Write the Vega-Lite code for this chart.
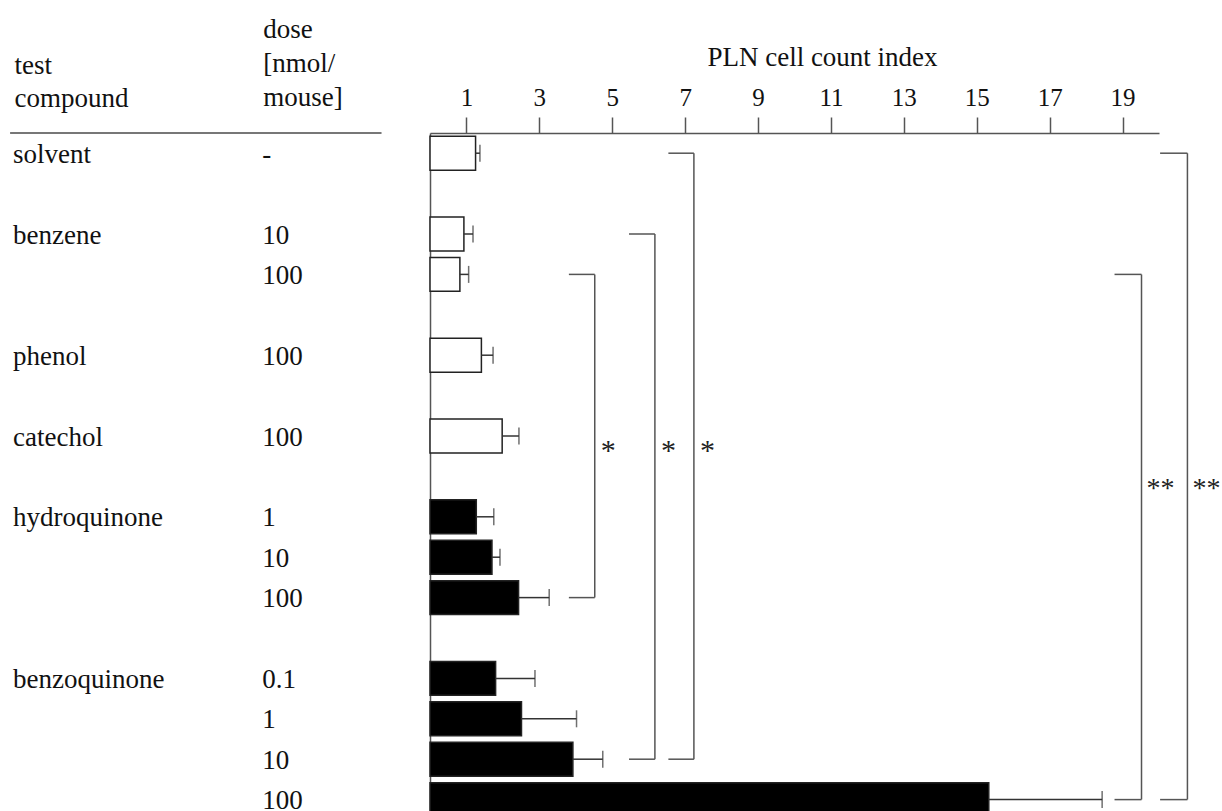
{
  "$schema": "https://vega.github.io/schema/vega-lite/v6.json",
  "width": 729,
  "height": 678,
  "autosize": {"type": "none"},
  "padding": {"left": 430, "top": 133, "right": 63, "bottom": 0},
  "config": {"view": {"stroke": null}, "font": "Liberation Serif"},
  "datasets": {
    "bars": [
      {"row": "solvent -", "compound": "solvent", "dose": "-", "class": "other", "mean": 1.25, "upper": 1.37},
      {"row": "benzene 10", "compound": "benzene", "dose": "10", "class": "other", "mean": 0.93, "upper": 1.18},
      {"row": "benzene 100", "compound": "benzene", "dose": "100", "class": "other", "mean": 0.82, "upper": 1.06},
      {"row": "phenol 100", "compound": "phenol", "dose": "100", "class": "other", "mean": 1.41, "upper": 1.73},
      {"row": "catechol 100", "compound": "catechol", "dose": "100", "class": "other", "mean": 1.98, "upper": 2.44},
      {"row": "hydroquinone 1", "compound": "hydroquinone", "dose": "1", "class": "quinone", "mean": 1.27, "upper": 1.75},
      {"row": "hydroquinone 10", "compound": "hydroquinone", "dose": "10", "class": "quinone", "mean": 1.70, "upper": 1.92},
      {"row": "hydroquinone 100", "compound": "hydroquinone", "dose": "100", "class": "quinone", "mean": 2.43, "upper": 3.27},
      {"row": "benzoquinone 0.1", "compound": "benzoquinone", "dose": "0.1", "class": "quinone", "mean": 1.80, "upper": 2.88},
      {"row": "benzoquinone 1", "compound": "benzoquinone", "dose": "1", "class": "quinone", "mean": 2.51, "upper": 4.02},
      {"row": "benzoquinone 10", "compound": "benzoquinone", "dose": "10", "class": "quinone", "mean": 3.92, "upper": 4.74},
      {"row": "benzoquinone 100", "compound": "benzoquinone", "dose": "100", "class": "quinone", "mean": 15.33, "upper": 18.44}
    ],
    "brackets": [
      {"from": "benzene 100", "to": "hydroquinone 100", "x1": 3.81, "x2": 4.52, "label": "*"},
      {"from": "benzene 10", "to": "benzoquinone 10", "x1": 5.46, "x2": 6.17, "label": "*"},
      {"from": "solvent -", "to": "benzoquinone 10", "x1": 6.54, "x2": 7.24, "label": "*"},
      {"from": "benzene 100", "to": "benzoquinone 100", "x1": 18.78, "x2": 19.52, "label": "**"},
      {"from": "solvent -", "to": "benzoquinone 100", "x1": 20.03, "x2": 20.78, "label": "**"}
    ],
    "header": [
      {"from": -11.52, "to": -1.33, "row": "solvent -"}
    ]
  },
  "layer": [
    {
      "data": {"name": "bars"},
      "mark": {"type": "bar", "stroke": "#222222", "strokeWidth": 1.5},
      "encoding": {
        "y": {
          "field": "row", "type": "nominal", "sort": null,
          "scale": {
            "domain": ["solvent -", "gap1", "benzene 10", "benzene 100", "gap2", "phenol 100", "gap3", "catechol 100", "gap4", "hydroquinone 1", "hydroquinone 10", "hydroquinone 100", "gap5", "benzoquinone 0.1", "benzoquinone 1", "benzoquinone 10", "benzoquinone 100"],
            "range": [0, 686.8],
            "paddingInner": 0.16,
            "paddingOuter": 0.08
          },
          "axis": {
            "orient": "left", "domain": true, "domainColor": "#555555", "domainWidth": 1.5,
            "ticks": false, "labels": false, "grid": false,
            "title": ["test", "compound"], "titleAngle": 0, "titleAlign": "left", "titleBaseline": "alphabetic",
            "titleX": -416, "titleY": -60, "titleFontSize": 27, "titleFontWeight": "normal",
            "titleLineHeight": 33.5, "titleColor": "#111111", "titleFont": "Liberation Serif"
          }
        },
        "x": {
          "field": "mean", "type": "quantitative",
          "scale": {"domain": [0, 20], "nice": false, "zero": true},
          "axis": {
            "orient": "top", "values": [1, 3, 5, 7, 9, 11, 13, 15, 17, 19],
            "tickSize": 16, "tickWidth": 1.5, "tickColor": "#555555",
            "domainColor": "#555555", "domainWidth": 1.5, "grid": false,
            "labelFont": "Liberation Serif", "labelFontSize": 25, "labelColor": "#111111",
            "labelPadding": 12, "labelBaseline": "alphabetic", "labelFlush": false,
            "title": "PLN cell count index", "titleFont": "Liberation Serif", "titleFontSize": 27,
            "titleFontWeight": "normal", "titleColor": "#111111",
            "titleX": 392, "titleY": -68, "titleBaseline": "alphabetic", "titleAlign": "center"
          }
        },
        "fill": {
          "field": "class", "type": "nominal",
          "scale": {"domain": ["other", "quinone"], "range": ["#ffffff", "#000000"]},
          "legend": null
        }
      }
    },
    {
      "data": {"name": "bars"},
      "mark": {"type": "rule", "color": "#333333", "strokeWidth": 1.5},
      "encoding": {
        "y": {"field": "row", "type": "nominal", "axis": null},
        "x": {"field": "mean", "type": "quantitative"},
        "x2": {"field": "upper"}
      }
    },
    {
      "data": {"name": "bars"},
      "mark": {"type": "tick", "orient": "vertical", "size": 17, "thickness": 1.5, "color": "#333333"},
      "encoding": {
        "y": {"field": "row", "type": "nominal", "axis": null},
        "x": {"field": "upper", "type": "quantitative"}
      }
    },
    {
      "data": {"name": "bars"},
      "transform": [
        {"window": [{"op": "row_number", "as": "k"}], "groupby": ["compound"]},
        {"filter": "datum.k == 1"}
      ],
      "mark": {"type": "text", "align": "left", "baseline": "alphabetic", "dy": 9.5, "fontSize": 27, "color": "#111111", "font": "Liberation Serif"},
      "encoding": {
        "y": {"field": "row", "type": "nominal", "axis": null},
        "x": {"datum": -11.44, "type": "quantitative"},
        "text": {"field": "compound"}
      }
    },
    {
      "data": {"name": "bars"},
      "mark": {"type": "text", "align": "left", "baseline": "alphabetic", "dy": 9.5, "fontSize": 27, "color": "#111111", "font": "Liberation Serif"},
      "encoding": {
        "y": {
          "field": "row", "type": "nominal",
          "axis": {
            "orient": "left", "domain": false, "ticks": false, "labels": false, "grid": false,
            "title": ["dose", "[nmol/", "mouse]"], "titleAngle": 0, "titleAlign": "left", "titleBaseline": "alphabetic",
            "titleX": -167.3, "titleY": -96, "titleFontSize": 27, "titleFontWeight": "normal",
            "titleLineHeight": 34.3, "titleColor": "#111111", "titleFont": "Liberation Serif"
          }
        },
        "x": {"datum": -4.6, "type": "quantitative"},
        "text": {"field": "dose"}
      }
    },
    {
      "data": {"name": "header"},
      "mark": {"type": "rule", "color": "#777777", "strokeWidth": 2, "yOffset": -3.2},
      "encoding": {
        "y": {"field": "row", "type": "nominal", "bandPosition": 0, "axis": null},
        "x": {"field": "from", "type": "quantitative"},
        "x2": {"field": "to"}
      }
    },
    {
      "data": {"name": "brackets"},
      "mark": {"type": "rule", "color": "#555555", "strokeWidth": 1.5},
      "encoding": {
        "y": {"field": "from", "type": "nominal", "axis": null},
        "x": {"field": "x1", "type": "quantitative"},
        "x2": {"field": "x2"}
      }
    },
    {
      "data": {"name": "brackets"},
      "mark": {"type": "rule", "color": "#555555", "strokeWidth": 1.5},
      "encoding": {
        "y": {"field": "to", "type": "nominal", "axis": null},
        "x": {"field": "x1", "type": "quantitative"},
        "x2": {"field": "x2"}
      }
    },
    {
      "data": {"name": "brackets"},
      "mark": {"type": "rule", "color": "#555555", "strokeWidth": 1.5},
      "encoding": {
        "y": {"field": "from", "type": "nominal", "axis": null},
        "y2": {"field": "to"},
        "x": {"field": "x2", "type": "quantitative"}
      }
    },
    {
      "data": {"name": "brackets"},
      "transform": [{"filter": "datum.label == '*'"}],
      "mark": {"type": "text", "align": "left", "baseline": "alphabetic", "dx": 6, "dy": 24, "fontSize": 30, "color": "#222222", "font": "Liberation Serif"},
      "encoding": {
        "y": {"datum": "catechol 100", "type": "nominal", "axis": null},
        "x": {"field": "x2", "type": "quantitative"},
        "text": {"field": "label"}
      }
    },
    {
      "data": {"name": "brackets"},
      "transform": [{"filter": "datum.label == '**'"}],
      "mark": {"type": "text", "align": "left", "baseline": "alphabetic", "dx": 5, "dy": -20, "fontSize": 28, "color": "#222222", "font": "Liberation Serif"},
      "encoding": {
        "y": {"datum": "hydroquinone 1", "type": "nominal", "axis": null},
        "x": {"field": "x2", "type": "quantitative"},
        "text": {"field": "label"}
      }
    }
  ],
  "resolve": {"axis": {"y": "independent"}}
}
